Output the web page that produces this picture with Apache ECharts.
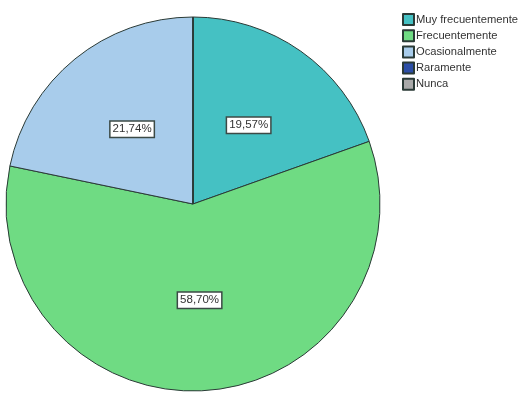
<!DOCTYPE html>
<html>
<head>
<meta charset="utf-8">
<script src="https://cdn.jsdelivr.net/npm/echarts@6/dist/echarts.min.js"></script>
<style>
  html, body { margin: 0; padding: 0; background: #fff; }
  #chart { width: 525px; height: 401px; }
</style>
</head>
<body>
<div id="chart"></div>
<script>
var categories = ['Muy frecuentemente', 'Frecuentemente', 'Ocasionalmente', 'Raramente', 'Nunca'];
var counts = [9, 27, 10, 0, 0];
var colors = ['#45c1c3', '#6fdb83', '#a8cceb', '#2c4ea6', '#a9a9a9'];

var total = counts.reduce(function (a, b) { return a + b; }, 0);

var pieData = categories.map(function (name, i) {
    return {
        name: name,
        value: counts[i],
        label: { show: counts[i] > 0 }
    };
});

var chart = echarts.init(document.getElementById('chart'));
chart.setOption({
    animation: false,
    color: colors,
    legend: {
        orient: 'vertical',
        left: 397,
        top: 8,
        icon: 'rect',
        itemWidth: 11,
        itemHeight: 11,
        itemGap: 3.2,
        textStyle: { fontFamily: 'Liberation Sans', fontSize: 11.2, color: '#333', padding: [0, 0, 0, -3] },
        data: categories
    },
    series: [{
        type: 'pie',
        center: [193, 204],
        radius: 187,
        startAngle: 90,
        clockwise: true,
        avoidLabelOverlap: false,
        itemStyle: { borderColor: '#2a3a36', borderWidth: 1 },
        label: {
            position: 'inside',
            formatter: function (p) {
                return (p.value / total * 100).toFixed(2).replace('.', ',') + '%';
            },
            fontFamily: 'Liberation Sans',
            fontSize: 11.5,
            color: '#333',
            backgroundColor: '#fff',
            borderColor: '#3c4a46',
            borderWidth: 1.5,
            padding: [2, 2, 1, 2]
        },
        labelLine: { show: false },
        emphasis: { disabled: true },
        data: pieData
    }]
});
</script>
</body>
</html>
